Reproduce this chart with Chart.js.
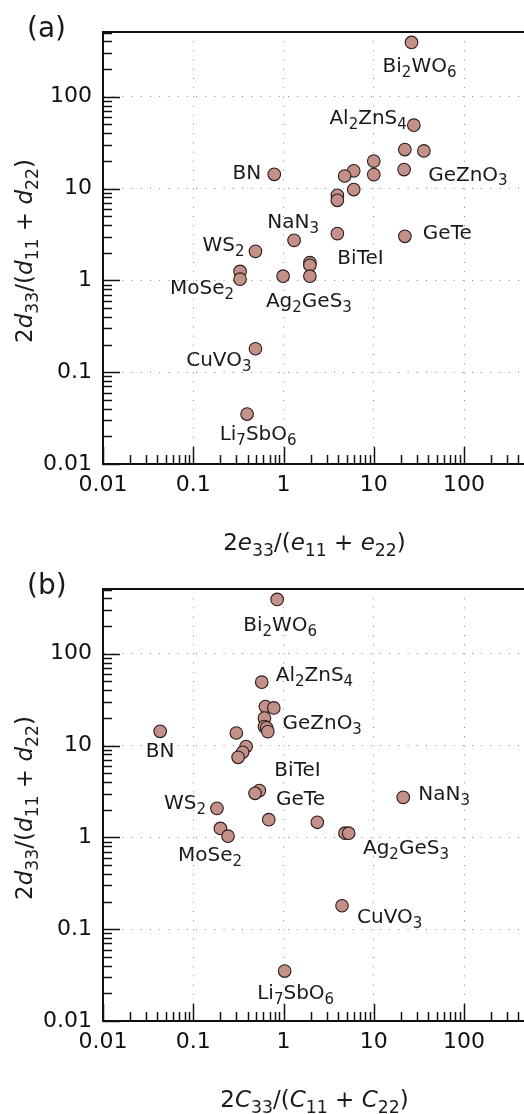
<!DOCTYPE html>
<html><head><meta charset="utf-8">
<script src="https://cdn.jsdelivr.net/npm/chart.js@4.4.1/dist/chart.umd.min.js"></script>
<style>
html,body{margin:0;padding:0;background:#fff;}
.wrap{position:relative;width:524px;height:557px;}
canvas{display:block;}
</style></head>
<body>
<div class="wrap"><canvas id="ca" width="524" height="557"></canvas></div>
<div class="wrap"><canvas id="cb" width="524" height="557"></canvas></div>
<script>
// ---- data ----
// y: 2d33/(d11 + d22), shared by both panels
const yRatio = [390, 49, 26.6, 25.7, 19.9, 16.1, 15.6, 14.2, 13.7, 14.3, 9.75, 8.45, 7.45, 3.23, 3.02, 2.73, 2.07, 1.56, 1.46, 1.11, 1.11, 1.25, 1.03, 0.18, 0.035];
// x (a): 2e33/(e11 + e22)
const xDielectric = [26.2, 27.8, 22.1, 35.9, 10, 21.7, 6.0, 10, 4.76, 0.79, 6.0, 3.95, 3.95, 3.95, 22.1, 1.31, 0.489, 1.96, 1.96, 1.96, 0.99, 0.33, 0.33, 0.489, 0.395];
// x (b): 2C33/(C11 + C22)
const xElastic = [0.85, 0.574, 0.63, 0.78, 0.615, 0.615, 0.65, 0.67, 0.30, 0.043, 0.385, 0.353, 0.314, 0.54, 0.484, 21.2, 0.183, 0.687, 2.37, 4.8, 5.27, 0.2, 0.243, 4.45, 1.03];
const majorTicks = [0.01, 0.1, 1, 10, 100];
const tickLabels = ['0.01', '0.1', '1', '10', '100'];

// material names attached to point indices
const namesA = ['Bi_2WO_6','Al_2ZnS_4','GeZnO_3','BN','NaN_3','WS_2','MoSe_2','Ag_2GeS_3','BiTeI','GeTe','CuVO_3','Li_7SbO_6'];
const idxA   = [0, 1, 5, 9, 15, 16, 22, 19, 13, 14, 23, 24];
const namesB = ['Bi_2WO_6','Al_2ZnS_4','GeZnO_3','BN','BiTeI','GeTe','NaN_3','WS_2','MoSe_2','Ag_2GeS_3','CuVO_3','Li_7SbO_6'];
const idxB   = [0, 1, 4, 9, 13, 14, 15, 16, 22, 19, 23, 24];

// ---- label placement (pixel offsets from the point, text baseline) ----
const placeA = [
  ['center', 8, 30], ['right', -7, -1], ['left', 24, 11], ['right', -13, 5],
  ['center', -1, -12], ['right', -11, 0], ['right', -6, 15], ['center', -1, 31],
  ['left', 0, 30], ['left', 18, 3], ['right', -4, 17], ['center', 11, 26]
];
const placeB = [
  ['center', 3, 32], ['left', 14, -1], ['left', 18, 11], ['center', 0, 26],
  ['left', 15, -15], ['left', 21, 12], ['left', 15, 3], ['right', -11, 1],
  ['center', -18, 25], ['left', 18, 21], ['left', 15, 17], ['center', 11, 28]
];

const FAM = '"DejaVu Sans", sans-serif';
const SUB = 0.75;
const XMAX = 462, YMAX = 507;

function parseRich(s){
  const segs=[]; let it=false, i=0, cur='';
  const push=(t,sub)=>{ if(t) segs.push({t,sub,it}); };
  while(i<s.length){
    const c=s[i];
    if(c==='*'){ push(cur,false); cur=''; it=!it; i++; continue; }
    if(c==='_'){ push(cur,false); cur=''; let t;
      if(s[i+1]==='{'){ const j=s.indexOf('}',i); t=s.slice(i+2,j); i=j+1; }
      else { t=s[i+1]; i+=2; }
      push(t,true); continue; }
    cur+=c; i++;
  }
  push(cur,false); return segs;
}
function segFont(g,size){ return (g.it?'italic ':'') + (g.sub? size*SUB : size) + 'px ' + FAM; }
function drawRich(ctx, str, x, y, size, align){
  const segs=parseRich(str);
  let w=0; for(const g of segs){ ctx.font=segFont(g,size); w+=ctx.measureText(g.t).width; }
  let sx = align==='center'? x-w/2 : (align==='right'? x-w : x);
  ctx.textAlign='left'; ctx.textBaseline='alphabetic';
  for(const g of segs){ ctx.font=segFont(g,size); ctx.fillText(g.t, sx, y + (g.sub? size*0.24 : 0)); sx+=ctx.measureText(g.t).width; }
}
function logTicks(min,max){
  const out=[];
  for(let d=Math.floor(Math.log10(min)); d<=Math.ceil(Math.log10(max)); d++){
    for(let m=1;m<=9;m++){ const v=+(m*Math.pow(10,d)).toPrecision(6); if(v>=min*0.9999 && v<=max) out.push({value:v}); }
  }
  return out;
}
function isMajor(v){ return majorTicks.some(t=>Math.abs(v/t-1)<1e-6); }
function labelOf(v){ const k=majorTicks.findIndex(t=>Math.abs(v/t-1)<1e-6); return k>=0? tickLabels[k] : ''; }

function makeChart(id, xs, names, idx, place, xTitle, panel){
  const pts = xs.map((x,i)=>({x, y:yRatio[i]}));
  const deco = {
    id:'deco'+panel,
    afterDraw(chart){
      const ctx=chart.ctx, a=chart.chartArea, sx=chart.scales.x, sy=chart.scales.y;
      ctx.save();
      // inward ticks
      ctx.strokeStyle='#111'; ctx.lineWidth=1.5;
      for(const t of logTicks(0.01, XMAX)){
        const p=Math.round(sx.getPixelForValue(t.value))+0.5, L=isMajor(t.value)?17:9;
        ctx.beginPath(); ctx.moveTo(p,a.bottom); ctx.lineTo(p,a.bottom-L); ctx.stroke();
      }
      for(const t of logTicks(0.01, YMAX)){
        const p=Math.round(sy.getPixelForValue(t.value))+0.5, L=isMajor(t.value)?17:9;
        ctx.beginPath(); ctx.moveTo(a.left,p); ctx.lineTo(a.left+L,p); ctx.stroke();
      }
      // top frame
      ctx.lineWidth=2; ctx.beginPath(); ctx.moveTo(a.left-1,a.top); ctx.lineTo(a.right,a.top); ctx.stroke();
      // material labels
      ctx.fillStyle='#1a1a1a';
      const meta=chart.getDatasetMeta(0);
      names.forEach((n,k)=>{
        const el=meta.data[idx[k]]; const [al,dx,dy]=place[k];
        drawRich(ctx, n, el.x+dx, el.y+dy, 20, al);
      });
      // axis titles
      drawRich(ctx, xTitle, (a.left+a.right)/2+1, 550, 23, 'center');
      ctx.save(); ctx.translate(32, 251); ctx.rotate(-Math.PI/2);
      drawRich(ctx, '2*d*_{33}/(*d*_{11} + *d*_{22})', 0, 0, 23, 'center');
      ctx.restore();
      // panel label
      ctx.font='28px '+FAM; ctx.textAlign='left'; ctx.textBaseline='alphabetic';
      ctx.fillText('('+panel+')', 27, 37);
      ctx.restore();
    }
  };
  const gridColor = c => (c.tick && isMajor(c.tick.value) && c.tick.value>0.011) ? '#8a8a8a' : 'rgba(0,0,0,0)';
  return new Chart(document.getElementById(id), {
    type:'scatter',
    data:{datasets:[{data:pts, backgroundColor:'#c4918a', borderColor:'#2b1d1b', borderWidth:1.1, pointRadius:6.3, pointHoverRadius:6.3}]},
    options:{
      responsive:false, animation:false, devicePixelRatio:1,
      layout:{autoPadding:false, padding:{top:32,right:0,left:0,bottom:0}},
      plugins:{legend:{display:false}, tooltip:{enabled:false}},
      scales:{
        x:{type:'logarithmic', min:0.01, max:XMAX,
          afterBuildTicks:s=>{ s.ticks=logTicks(0.01,XMAX); },
          afterFit:s=>{ s.height=93; s.paddingLeft=0; s.paddingRight=0; },
          ticks:{autoSkip:false, maxRotation:0, minRotation:0, padding:8, color:'#111', font:{family:FAM,size:22}, callback:v=>labelOf(v)},
          grid:{drawTicks:false, color:gridColor, lineWidth:1},
          border:{display:true, color:'#111', width:2, dash:[1,8.2]}
        },
        y:{type:'logarithmic', min:0.01, max:YMAX,
          afterBuildTicks:s=>{ s.ticks=logTicks(0.01,YMAX); },
          afterFit:s=>{ s.width=103; s.paddingTop=0; s.paddingBottom=0; },
          ticks:{autoSkip:false, padding:11, color:'#111', font:{family:FAM,size:22}, callback:v=>labelOf(v)},
          grid:{drawTicks:false, color:gridColor, lineWidth:1},
          border:{display:true, color:'#111', width:2, dash:[1,8.2]}
        }
      }
    },
    plugins:[deco]
  });
}
makeChart('ca', xDielectric, namesA, idxA, placeA, '2*e*_{33}/(*e*_{11} + *e*_{22})', 'a');
makeChart('cb', xElastic, namesB, idxB, placeB, '2*C*_{33}/(*C*_{11} + *C*_{22})', 'b');
</script>
</body></html>
